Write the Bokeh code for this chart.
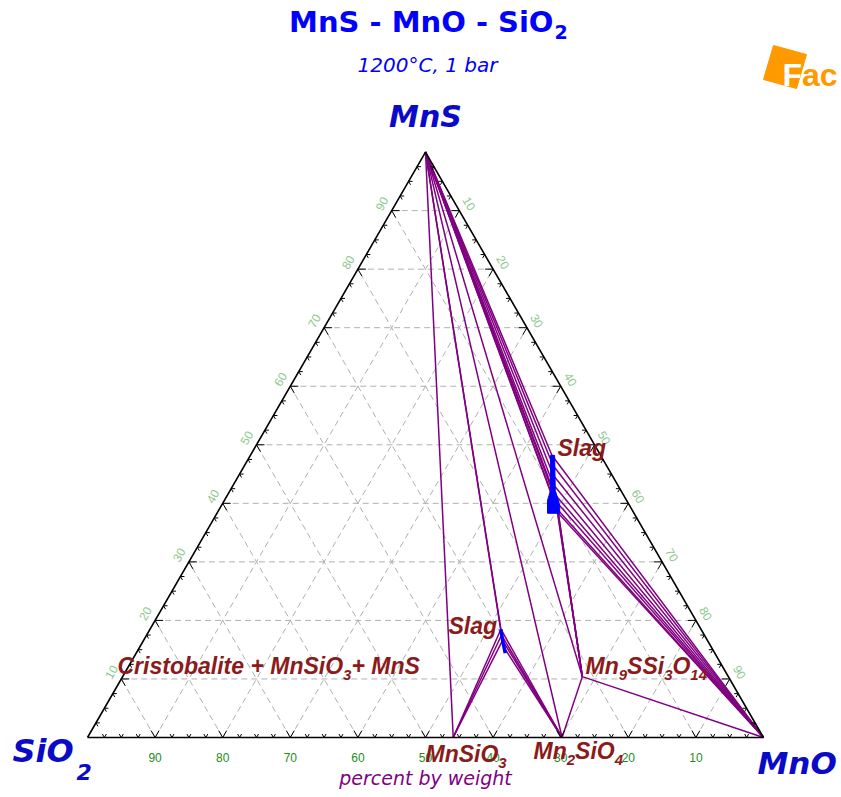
import math
from bokeh.plotting import figure
from bokeh.models import Range1d
from bokeh.core.properties import value
from bokeh.embed import file_html
from bokeh.resources import INLINE

# ---------------- compositions, wt% (MnS, MnO); SiO2 = 100 - MnS - MnO ----------------
apex_mns, apex_mno = 100.0, 0.0            # pure MnS
mno_mns, mno_mno = 0.0, 100.0              # pure MnO
mnsio3_mns, mnsio3_mno = 0.0, 54.1         # MnSiO3
mn2sio4_mns, mn2sio4_mno = 0.0, 70.2       # Mn2SiO4
mn9_mns, mn9_mno = 10.4, 68.0              # Mn9SSi3O14

# liquid (slag) compositions bounding the tie-line fans
upper_slag_mns = [48.2, 46.5, 44.8, 43.2, 41.6, 40.2, 39.0, 38.3]
upper_slag_mno = [44.6, 45.6, 46.5, 47.3, 48.3, 49.3, 50.0, 50.5]
lower_slag_mns = [18.5, 17.5, 16.6, 15.5, 14.4]
lower_slag_mno = [51.9, 52.5, 53.1, 53.8, 54.6]

# single-phase slag field outlines
upper_field_mns = [48.2, 48.2, 42.2, 39.7, 38.3, 38.3, 40.5, 42.2]
upper_field_mno = [44.4, 45.0, 48.1, 50.0, 50.7, 48.9, 47.8, 47.4]
lower_field_mns = [18.5, 16.6, 14.4]
lower_field_mno = [51.9, 53.1, 54.6]

major_ticks = [10, 20, 30, 40, 50, 60, 70, 80, 90]
minor_ticks = [2.5, 5, 7.5, 12.5, 15, 17.5, 22.5, 25, 27.5, 32.5, 35, 37.5,
               42.5, 45, 47.5, 52.5, 55, 57.5, 62.5, 65, 67.5, 72.5, 75, 77.5,
               82.5, 85, 87.5, 92.5, 95, 97.5]
tick_labels = ["10", "20", "30", "40", "50", "60", "70", "80", "90"]

# ---------------- geometry ----------------
W, H = 841, 797
X0, Y0, SIDE = 87.0, 60.0, 676.0
S3 = math.sqrt(3) / 2
BASELINE_FIX = 0.4   # raise alphabetic-baseline texts by this fraction of their size


def tern(mns, mno):
    """(MnS, MnO) wt% -> canvas coordinates, SiO2 at lower left, MnO lower right."""
    return (X0 + SIDE / 100.0 * (mno + mns / 2.0), Y0 + SIDE / 100.0 * S3 * mns)


p = figure(width=W, height=H, x_range=Range1d(0, W), y_range=Range1d(0, H),
           toolbar_location=None, output_backend="svg", min_border=0)
p.axis.visible = False
p.grid.visible = False
p.outline_line_color = None
p.background_fill_color = "white"

# ---------------- dashed composition grid ----------------
gx, gy = [], []
for v in major_ticks:
    for a, b in (((v, 0), (v, 100 - v)),          # MnS = const
                 ((0, v), (100 - v, v)),          # MnO = const
                 ((0, 100 - v), (100 - v, 0))):   # SiO2 = const
        (xa, ya), (xb, yb) = tern(*a), tern(*b)
        gx.append([xa, xb]); gy.append([ya, yb])
p.multi_line(gx, gy, line_color="#b0b0b0", line_width=1, line_dash="6 4")

# ---------------- phase boundaries / tie lines ----------------
segs = []
for m, o in zip(upper_slag_mns, upper_slag_mno):
    segs.append(((apex_mns, apex_mno), (m, o)))
    segs.append(((m, o), (mno_mns, mno_mno)))
for m, o in list(zip(upper_slag_mns, upper_slag_mno))[4:]:
    segs.append(((m, o), (mn9_mns, mn9_mno)))
for m, o in list(zip(lower_slag_mns, lower_slag_mno))[:2]:
    segs.append(((apex_mns, apex_mno), (m, o)))
for m, o in list(zip(lower_slag_mns, lower_slag_mno))[:3]:
    segs.append(((mnsio3_mns, mnsio3_mno), (m, o)))
for m, o in list(zip(lower_slag_mns, lower_slag_mno))[:4]:
    segs.append(((mn2sio4_mns, mn2sio4_mno), (m, o)))
segs += [((apex_mns, apex_mno), (mnsio3_mns, mnsio3_mno)),
         ((apex_mns, apex_mno), (mn2sio4_mns, mn2sio4_mno)),
         ((apex_mns, apex_mno), (mn9_mns, mn9_mno)),
         ((mn9_mns, mn9_mno), (mn2sio4_mns, mn2sio4_mno)),
         ((mn9_mns, mn9_mno), (mno_mns, mno_mno))]
lx, ly = [], []
for a, b in segs:
    (xa, ya), (xb, yb) = tern(*a), tern(*b)
    lx.append([xa, xb]); ly.append([ya, yb])
p.multi_line(lx, ly, line_color="#800080", line_width=1.5)

# liquid fields
ux, uy = zip(*[tern(m, o) for m, o in zip(upper_field_mns, upper_field_mno)])
p.patch(list(ux), list(uy), fill_color="#0000ff", line_color="#0000ff", line_width=1)
lwx, lwy = zip(*[tern(m, o) for m, o in zip(lower_field_mns, lower_field_mno)])
p.line(list(lwx), list(lwy), line_color="#0000ff", line_width=3.5)

# ---------------- triangle frame and ticks ----------------
cx, cy = zip(*[tern(0, 0), tern(0, 100), tern(100, 0), tern(0, 0)])
p.line(list(cx), list(cy), line_color="black", line_width=1.6)

tx, ty = [], []
dirs = {
    "bottom": ((-0.5, S3), (0.5, S3)),
    "left": ((1.0, 0.0), (0.5, -S3)),
    "right": ((-1.0, 0.0), (-0.5, -S3)),
}
for vals, ln in ((major_ticks, 8.0), (minor_ticks, 4.0)):
    for v in vals:
        pts = {"bottom": tern(0, 100 - v), "left": tern(v, 0), "right": tern(100 - v, v)}
        for side, (px, py) in pts.items():
            for dx, dy in dirs[side]:
                tx.append([px, px + dx * ln]); ty.append([py, py + dy * ln])
p.multi_line(tx, ty, line_color="black", line_width=1)

# tick labels: SiO2 along the base, MnS on the left side, MnO on the right side
bx, by, lx2, ly2, rx, ry = [], [], [], [], [], []
for v in major_ticks:
    x, y = tern(0, 100 - v); bx.append(x); by.append(y - 25 + BASELINE_FIX * 12)
    x, y = tern(v, 0); lx2.append(x - 10); ly2.append(y + 7)
    x, y = tern(100 - v, v); rx.append(x + 10); ry.append(y + 7)
p.text(bx, by, text=tick_labels, text_font=value("Liberation Sans"),
       text_font_size="12px", text_color="#1e8c1e", text_align="center",
       text_baseline="alphabetic")
p.text(lx2, ly2, text=tick_labels, text_font=value("Liberation Sans"), text_font_size="12px",
       text_color="#8cc88c", text_align="center", text_baseline="middle", angle=math.pi / 3)
p.text(rx, ry, text=tick_labels, text_font=value("Liberation Sans"), text_font_size="12px",
       text_color="#8cc88c", text_align="center", text_baseline="middle", angle=-math.pi / 3)

# ---------------- titles and corner labels ----------------
BLUE = "#0000ff"
CORNER = "#0a0ac8"


def txt(x, y, s, size, color, font="DejaVu Sans", style="normal", align="left"):
    p.text([x], [y + BASELINE_FIX * size], text=[s], text_font=value(font),
           text_font_size=value(f"{size}px"), text_font_style=style, text_color=color,
           text_align=align, text_baseline="alphabetic")


txt(553, 764, "MnS - MnO - SiO", 29, BLUE, style="bold", align="right")
txt(554, 758, "2", 19, BLUE, style="bold")
txt(427, 725, "1200°C, 1 bar", 20, BLUE, style="italic", align="center")

txt(425, 669, "MnS", 30, CORNER, style="bold italic", align="center")
txt(12, 34, "SiO", 32, CORNER, style="bold italic")
txt(76, 17, "2", 22, CORNER, style="bold italic")
txt(757, 22, "MnO", 31, CORNER, style="bold italic")

txt(425, 12, "percent by weight", 19, "#800080", style="italic", align="center")

# ---------------- phase labels (with subscripts) ----------------
ARIAL_BOLD = {"M": 0.833, "n": 0.611, "S": 0.667, "i": 0.278, "O": 0.778, "C": 0.722,
              "r": 0.389, "s": 0.556, "t": 0.333, "o": 0.611, "b": 0.611, "a": 0.556,
              "l": 0.278, "e": 0.556, "g": 0.611, " ": 0.278, "+": 0.584}
RED = "#8b1a1a"


def rich(x, y, parts, size=23, sub=15, drop=5):
    for s, is_sub in parts:
        fs = sub if is_sub else size
        txt(x, y - drop if is_sub else y, s, fs, RED, font="Liberation Sans", style="bold italic")
        x += sum(ARIAL_BOLD.get(c, 0.556) for c in s) * fs


rich(557, 340, [("Slag", False)])
rich(448, 162, [("Slag", False)])
rich(117, 122, [("Cristobalite + MnSiO", False), ("3", True), (" + MnS", False)])
rich(425, 34, [("MnSiO", False), ("3", True)])
rich(533, 37, [("Mn", False), ("2", True), ("SiO", False), ("4", True)])
rich(585, 122, [("Mn", False), ("9", True), ("SSi", False), ("3", True), ("O", False), ("14", True)])

# ---------------- logo ----------------
p.patch([773, 806, 796, 763], [752, 743, 709, 718], fill_color="#ff9900", line_color="#ff9900")
txt(782, 710, "Fac", 32, "#ff9900", font="Liberation Sans", style="bold")
txt(782, 710, "F", 32, "white", font="Liberation Sans", style="bold")

open("out.html", "w").write(file_html(p, INLINE))
